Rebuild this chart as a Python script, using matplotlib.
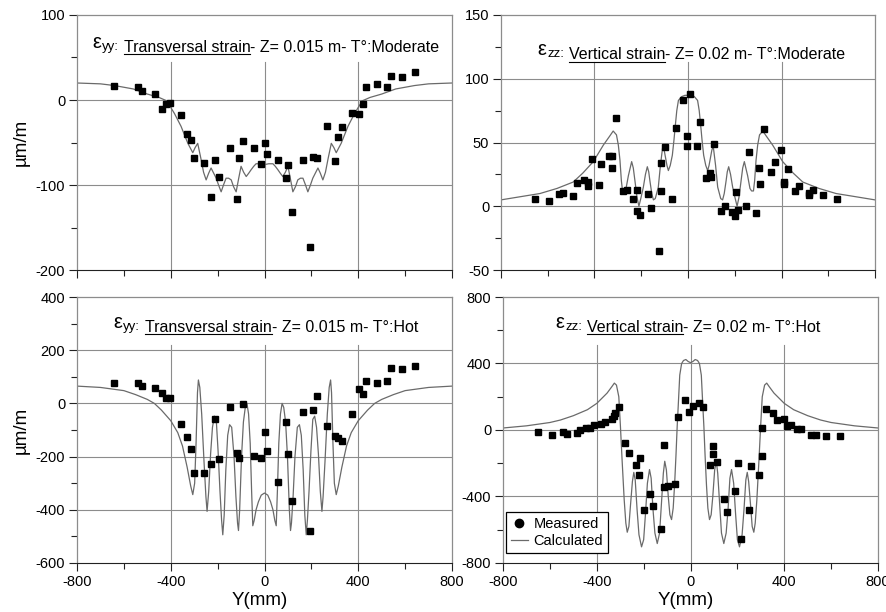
import matplotlib
matplotlib.use('Agg')
import matplotlib.pyplot as plt
from matplotlib.lines import Line2D
from matplotlib.ticker import MultipleLocator

plt.rcParams['font.family'] = ['Liberation Sans', 'DejaVu Sans']
plt.rcParams['axes.unicode_minus'] = False

# ---- measured points, eps_yy (same sensor positions for both temperatures)
yy_x = [-643, -541, -524, -467, -438, -420, -403, -358, -330, -314, -302, -256, -228, -211,
        -193, -149, -119, -108, -91, -46, -17, 0, 11, 57, 91, 102, 119, 164, 193, 209, 222,
        267, 302, 313, 330, 375, 404, 422, 434, 478, 523, 541, 586, 644]
yy_mod = [16, 15, 11, 7, -11, -5, -3, -18, -40, -47, -68, -74, -114, -71, -91, -57, -116, -68,
          -48, -56, -75, -51, -63, -71, -92, -76, -132, -71, -173, -67, -68, -31, -72, -44, -32,
          -15, -16, -5, 15, 19, 15, 28, 27, 33]
yy_hot = [76, 76, 65, 59, 40, 19, 19, -79, -127, -170, -261, -261, -226, -58, -209, -14, -185,
          -207, -3, -199, -207, -109, -178, -297, -69, -192, -366, -33, -479, -25, 29, -86,
          -122, -129, -140, -40, 55, 36, 84, 76, 84, 134, 128, 142]

# ---- measured points, eps_zz
zz_mod_x = [-655, -593, -551, -533, -491, -474, -445, -428, -428, -411, -382, -371, -337, -324,
            -325, -308, -280, -262, -234, -217, -217, -205, -171, -160, -126, -114, -114, -97,
            -68, -51, -23, -6, -6, 7, 37, 51, 77, 94, 97, 111, 142, 159, 188, 202, 205, 216,
            248, 262, 291, 305, 308, 325, 354, 371, 399, 411, 411, 428, 456, 473, 519, 519,
            534, 576, 636]
zz_mod = [5.5, 4.4, 9.7, 10.2, 8.1, 18.6, 20.7, 19.3, 16.2, 36.9, 16.5, 33.2, 39.5, 39.5, 29.8,
          69, 12, 12.8, 5.5, 12.8, -3.7, -6.8, 9.9, -1.6, -34.8, 11.8, 34.2, 46.5, 5.5, 61.4,
          83.4, 55.4, 47.3, 87.8, 47.3, 66.1, 21.9, 26.4, 23, 48.6, -3.7, 0, -4.4, -7.3, 11.5,
          -3.1, 0, 42.6, -5.5, 30.3, 17.5, 60.4, 26.7, 34.5, 44.4, 19.3, 17.3, 29.5, 12, 16.2,
          10.7, 9.2, 12.8, 9.2, 5.5]
zz_hot_x = [-650, -592, -546, -529, -486, -472, -445, -430, -410, -383, -366, -337, -326, -321,
            -307, -279, -262, -233, -216, -218, -199, -174, -159, -128, -114, -114, -95, -67,
            -53, -24, -7, 9, 38, 53, 85, 97, 97, 111, 141, 156, 188, 203, 215, 249, 260, 292,
            306, 306, 323, 351, 370, 398, 412, 427, 455, 472, 515, 535, 579, 636]
zz_hot = [-14, -32, -14, -26, -20, 2, 14, 14, 32, 38, 50, 66, 86, 102, 136, -78, -136, -210,
          -170, -269, -483, -383, -455, -595, -88, -343, -339, -325, 78, 178, 108, 144, 160,
          136, -210, -98, -142, -194, -413, -493, -369, -200, -657, -483, -216, -269, -156, 10,
          126, 102, 62, 68, 24, 30, 4, 4, -30, -30, -36, -36]

# ---- calculated curves
yy_mod_cx = [-800, -700, -640, -560, -500, -450, -417, -384, -356, -327, -306, -296, -285, -272,
             -260, -249, -238, -228, -217, -206, -196, -185, -175, -164, -153, -142, -132, -121,
             -110, -100, -89, -78, -67, -57, -46, -36, -18, 0,
             18, 36, 46, 57, 67, 78, 89, 100, 110, 121, 132, 142, 153, 164, 175, 185, 196, 206,
             217, 228, 238, 249, 260, 272, 285, 296, 306, 327, 356, 384, 417, 450, 500, 560,
             640, 700, 800]
yy_mod_cy = [20, 19, 17, 13, 7, 3, -1, -16, -31, -51, -62, -56, -51, -68, -85, -94, -86, -80,
             -86, -92, -100, -108, -100, -92, -92, -94, -102, -108, -92, -78, -85, -90, -86, -82,
             -78, -75, -75, -76,
             -75, -75, -78, -82, -86, -90, -85, -78, -92, -108, -102, -94, -92, -92, -100, -108,
             -100, -92, -86, -80, -86, -94, -85, -68, -51, -56, -62, -51, -31, -16, -1, 3, 7, 13,
             17, 19, 20]

zz_mod_cx = [-800, -700, -633, -560, -491, -450, -405, -362, -335, -320, -306, -298, -291, -285,
             -280, -272, -265, -255, -241, -234, -227, -218, -210, -202, -191, -182, -174, -168,
             -163, -155, -148, -140, -127, -118, -108, -102, -97, -90, -84, -76, -67, -60, -56,
             -48, -41, -27, -13, 0,
             13, 27, 41, 48, 56, 60, 67, 76, 84, 90, 97, 102, 108, 118, 127, 140, 148, 155, 163,
             168, 174, 182, 191, 202, 210, 218, 227, 234, 241, 255, 265, 272, 280, 285, 291, 298,
             306, 320, 335, 362, 405, 450, 491, 560, 633, 700, 800]
zz_mod_cy = [5, 8, 10, 14, 19, 26, 35, 48, 55, 59, 56, 48, 36, 20, 12, 12, 14, 24, 35, 30, 20, 7,
             0, 6, 15, 25, 31, 27, 20, 10, 5, 6, 15, 32, 47, 44, 39, 32, 28, 32, 40, 52, 60, 75,
             83, 86, 87, 87,
             87, 86, 83, 75, 60, 52, 40, 32, 28, 32, 39, 44, 47, 32, 15, 6, 5, 10, 20, 27, 31, 25,
             15, 6, 0, 7, 20, 30, 35, 24, 14, 12, 12, 20, 36, 48, 56, 59, 55, 48, 35, 26, 19, 14,
             10, 8, 5]

yy_hot_cx = [-800, -700, -600, -550, -500, -470, -440, -400, -370, -350, -330, -315, -306, -298,
             -292, -286, -282, -276, -268, -258, -250, -245, -238, -230, -222, -214, -206, -198,
             -190, -183, -178, -172, -165, -157, -149, -140, -130, -122, -115, -111, -106, -98,
             -90, -82, -75, -68, -61, -55, -50, -44, -36, -26, -14, 0,
             14, 26, 36, 44, 50, 55, 61, 68, 75, 82, 90, 98, 106, 111, 115, 122, 130, 140, 149,
             157, 165, 172, 178, 183, 190, 198, 206, 214, 222, 230, 238, 245, 250, 258, 268, 276,
             282, 286, 292, 298, 306, 315, 330, 350, 370, 400, 440, 470, 500, 550, 600, 700, 800]
yy_hot_cy = [65, 60, 48, 33, 15, 0, -25, -65, -110, -160, -240, -310, -343, -300, -150, 40, 88,
             60, -40, -220, -350, -406, -330, -190, -90, -48, -60, -180, -330, -440, -494, -420,
             -250, -120, -80, -90, -200, -350, -450, -478, -400, -200, -70, -15, 0, -40, -150,
             -330, -460, -440, -400, -370, -345, -337,
             -345, -370, -400, -440, -460, -330, -150, -40, 0, -15, -70, -200, -400, -478, -450,
             -350, -200, -90, -80, -120, -250, -420, -494, -440, -330, -180, -60, -48, -90, -190,
             -330, -406, -350, -220, -40, 60, 88, 40, -150, -300, -343, -310, -240, -160, -110,
             -65, -25, 0, 15, 33, 48, 60, 65]

zz_hot_cx = [-800, -700, -600, -555, -500, -440, -400, -356, -335, -325, -316, -306, -299, -292,
             -283, -276, -270, -263, -256, -248, -242, -236, -228, -220, -209, -200, -192, -184,
             -175, -168, -160, -152, -142, -132, -124, -116, -110, -103, -95, -88, -81, -74, -68,
             -62, -57, -53, -46, -38, -30, -20, -10, 0,
             10, 20, 30, 38, 46, 53, 57, 62, 68, 74, 81, 88, 95, 103, 110, 116, 124, 132, 142,
             152, 160, 168, 175, 184, 192, 200, 209, 220, 228, 236, 242, 248, 256, 263, 270, 276,
             283, 292, 299, 306, 316, 325, 335, 356, 400, 440, 500, 555, 600, 700, 800]
zz_hot_cy = [12, 25, 45, 60, 86, 122, 160, 222, 262, 282, 270, 200, 20, -180, -420, -560, -615,
             -580, -450, -310, -255, -300, -480, -630, -703, -660, -500, -320, -238, -290, -480,
             -620, -683, -620, -440, -260, -188, -240, -400, -510, -539, -470, -330, -150, 20,
             130, 330, 400, 418, 424, 412, 405,
             412, 424, 418, 400, 330, 130, 20, -150, -330, -470, -539, -510, -400, -240, -188,
             -260, -440, -620, -683, -620, -480, -290, -238, -320, -500, -660, -703, -630, -480,
             -300, -255, -310, -450, -580, -615, -560, -420, -180, 20, 200, 270, 282, 262, 222,
             160, 122, 86, 60, 45, 25, 12]

GRID = '#8c8c8c'
CALC = '#6a6a6a'


def style(ax, ylim, major, minor, hgrid, vtop, bottom_labels):
    ax.set_xlim(-800, 800)
    ax.set_ylim(*ylim)
    ax.xaxis.set_major_locator(MultipleLocator(400))
    ax.xaxis.set_minor_locator(MultipleLocator(200))
    ax.yaxis.set_major_locator(MultipleLocator(major))
    ax.yaxis.set_minor_locator(MultipleLocator(minor))
    ax.tick_params(which='major', direction='out', length=5.5, width=0.8, color='#222222',
                   labelsize=10.5, pad=3)
    ax.tick_params(which='minor', direction='out', length=4.5, width=0.8, color='#222222')
    if not bottom_labels:
        ax.tick_params(labelbottom=False)
    for x in (-400, 0, 400):
        ax.axvline(x, ymax=vtop, color=GRID, lw=0.8, zorder=0.5)
    for y in hgrid:
        ax.axhline(y, color=GRID, lw=0.8, zorder=0.5)
    for s in ('left', 'top', 'right'):
        ax.spines[s].set_color(GRID)
        ax.spines[s].set_linewidth(0.9)
    ax.spines['bottom'].set_color('#222222')
    ax.spines['bottom'].set_linewidth(0.8)


def strain_title(ax, xc, yb, sym, label, rest, fs=11.5):
    # pieces: (text, size, vertical shift in px); big epsilon, small "yy:" subscript
    r = ax.figure.canvas.get_renderer()
    bb = ax.get_window_extent(r)
    pieces = [('ε', 14.5, 4.0), (sym + ':', 9.5, 2.0), (label, fs, 0), (rest, fs, 0)]
    gaps = [0.5, 5, 0, 0]
    ts, ws = [], []
    for s, size, dy in pieces:
        t = ax.text(0, yb + dy / bb.height, s, transform=ax.transAxes, fontsize=size,
                    va='baseline', ha='left')
        ts.append(t)
        ws.append(t.get_window_extent(r).width)
    x = xc - (sum(ws) + sum(gaps)) / 2 / bb.width
    starts = []
    for t, w, g in zip(ts, ws, gaps):
        t.set_x(x)
        starts.append(x)
        x += (w + g) / bb.width
    yl = yb - 2.2 / bb.height
    ax.add_artist(Line2D([starts[2], starts[2] + ws[2] / bb.width], [yl, yl],
                         transform=ax.transAxes, color='k', lw=0.8))


fig = plt.figure(figsize=(8.87, 6.12), dpi=100)
ax1 = fig.add_axes([0.0868, 0.5588, 0.4228, 0.4167])
ax2 = fig.add_axes([0.5648, 0.5588, 0.4217, 0.4167])
ax3 = fig.add_axes([0.0868, 0.0801, 0.4228, 0.4346])
ax4 = fig.add_axes([0.5671, 0.0801, 0.4228, 0.4346])

panels = [
    (ax1, yy_mod_cx, yy_mod_cy, yy_x, yy_mod),
    (ax2, zz_mod_cx, zz_mod_cy, zz_mod_x, zz_mod),
    (ax3, yy_hot_cx, yy_hot_cy, yy_x, yy_hot),
    (ax4, zz_hot_cx, zz_hot_cy, zz_hot_x, zz_hot),
]
for ax, cx, cy, mx, my in panels:
    ax.plot(cx, cy, color=CALC, lw=0.9, zorder=2)
    ax.plot(mx, my, 's', color='k', ms=5, zorder=3)

style(ax1, (-200, 100), 100, 50, [0, -100], 0.815, False)
style(ax2, (-50, 150), 50, 25, [0, 50, 100], 0.816, False)
style(ax3, (-600, 400), 200, 100, [200, 0, -200, -400], 0.82, True)
style(ax4, (-800, 800), 400, 200, [400, 0, -400], 0.82, True)

for ax in (ax1, ax3):
    ax.set_ylabel('µm/m', fontsize=13.5)
ax1.yaxis.set_label_coords(-0.125, 0.5)
ax3.yaxis.set_label_coords(-0.127, 0.5)
for ax in (ax3, ax4):
    ax.set_xlabel('Y(mm)', fontsize=13.5)
    ax.xaxis.set_label_coords(0.488, -0.108)

strain_title(ax1, 0.504, 0.856, 'yy', 'Transversal strain', '- Z= 0.015 m- T°:Moderate')
strain_title(ax2, 0.51, 0.826, 'zz', 'Vertical strain', '- Z= 0.02 m- T°:Moderate')
strain_title(ax3, 0.504, 0.868, 'yy', 'Transversal strain', '- Z= 0.015 m- T°:Hot')
strain_title(ax4, 0.494, 0.868, 'zz', 'Vertical strain', '- Z= 0.02 m- T°:Hot')

handles = [Line2D([], [], marker='o', ls='none', color='k', ms=6),
           Line2D([], [], color=CALC, lw=0.9)]
leg = ax4.legend(handles, ['Measured', 'Calculated'], loc='lower left',
                 bbox_to_anchor=(0.007, 0.038), fontsize=10.5, fancybox=False, framealpha=1,
                 edgecolor='k', handlelength=1.15, handletextpad=0.4, borderpad=0.35,
                 labelspacing=0.2, borderaxespad=0)
leg.get_frame().set_linewidth(0.9)

fig.savefig('out.png', dpi=100)
